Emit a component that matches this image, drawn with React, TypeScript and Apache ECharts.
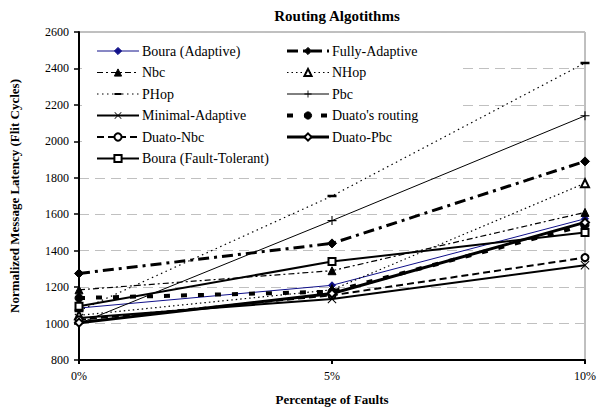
import React, { useEffect, useRef } from "react";
import * as echarts from "echarts";

const categories = ["0%", "5%", "10%"];
const yTicks = { min: 800, max: 2600, interval: 200 };

const bouraAdaptive = [1085, 1210, 1575];
const fullyAdaptive = [1275, 1440, 1890];
const nbc = [1185, 1290, 1610];
const nhop = [1045, 1185, 1770];
const phop = [1070, 1700, 2430];
const pbc = [1000, 1565, 2140];
const minimalAdaptive = [1030, 1135, 1320];
const duatoRouting = [1140, 1175, 1540];
const duatoNbc = [1020, 1155, 1362];
const duatoPbc = [1005, 1165, 1555];
const bouraFT = [1095, 1340, 1500];

const leftNames = ["Boura (Adaptive)", "Nbc", "PHop", "Minimal-Adaptive", "Duato-Nbc", "Boura (Fault-Tolerant)"];
const rightNames = ["Fully-Adaptive", "NHop", "Pbc", "Duato's routing", "Duato-Pbc"];

const PLUS = "path://M4.4,0H5.6V4.4H10V5.6H5.6V10H4.4V5.6H0V4.4H4.4Z";
const CROSS = "path://M0.8,0L5,4.2L9.2,0L10,0.8L5.8,5L10,9.2L9.2,10L5,5.8L0.8,10L0,9.2L4.2,5L0,0.8Z";
const DASH = "path://M0,0H0.01V0.01H0Z M9.99,9.99H10V10H9.99Z M0,3.5H10V6.5H0Z";

const FONT = "Liberation Serif";

function mk(name: string, data: number[], opts: any) {
  const color = opts.color || "#000";
  return {
    name,
    type: "line",
    data,
    symbol: opts.symbol,
    symbolSize: opts.symbolSize,
    symbolKeepAspect: true,
    z: 2,
    lineStyle: { color, width: opts.width, type: opts.dash || "solid", cap: "butt" },
    itemStyle: { color, borderColor: color, borderWidth: opts.borderWidth ?? 1 },
    emphasis: { disabled: true },
  };
}

export default function App() {
  const ref = useRef<HTMLDivElement>(null);
  useEffect(() => {
    if (!ref.current) return;
    const chart = echarts.init(ref.current, undefined, { renderer: "svg" });
    const legendBase = {
      orient: "vertical",
      top: 44,
      itemWidth: 42,
      itemHeight: 9,
      itemGap: 7.5,
      padding: 0,
      selectedMode: false,
      lineStyle: { width: "inherit" },
      itemStyle: { borderWidth: "inherit" },
      textStyle: { fontFamily: FONT, fontSize: 14, color: "#000", padding: [0, 0, 0, -2] },
    };
    chart.setOption({
      animation: false,
      title: {
        text: "Routing Algotithms",
        left: 332,
        textAlign: "center",
        top: 3,
        textStyle: { fontFamily: FONT, fontSize: 15, fontWeight: "bold", color: "#000" },
      },
      grid: {
        left: 76,
        right: 20,
        top: 32,
        bottom: 50,
        show: true,
        borderColor: "#808080",
        borderWidth: 1,
        backgroundColor: "#fff",
      },
      legend: [
        { ...legendBase, left: 96, data: leftNames },
        { ...legendBase, left: 285, data: rightNames },
      ],
      graphic: [
        {
          type: "rect",
          z: 1,
          shape: { x: 82, y: 38, width: 380, height: 131 },
          style: { fill: "#fff" },
          silent: true,
        },
      ],
      xAxis: {
        type: "category",
        data: categories,
        boundaryGap: false,
        name: "Percentage of Faults",
        nameLocation: "middle",
        nameGap: 33,
        nameTextStyle: { fontFamily: FONT, fontSize: 13, fontWeight: "bold", color: "#000" },
        axisLine: { lineStyle: { color: "#000", width: 2 } },
        axisTick: { show: true, length: 4, lineStyle: { color: "#000", width: 2 } },
        axisLabel: { fontFamily: FONT, fontSize: 12, color: "#000", margin: 10 },
        splitLine: { show: false },
      },
      yAxis: {
        type: "value",
        min: yTicks.min,
        max: yTicks.max,
        interval: yTicks.interval,
        name: "Normalized Message Latency (Flit Cycles)",
        nameLocation: "middle",
        nameGap: 58,
        nameRotate: 90,
        nameTextStyle: { fontFamily: FONT, fontSize: 13, fontWeight: "bold", color: "#000" },
        axisLine: { show: true, lineStyle: { color: "#000", width: 2 } },
        axisTick: { show: true, length: 5, lineStyle: { color: "#000", width: 1.5 } },
        axisLabel: { fontFamily: FONT, fontSize: 12, color: "#000", margin: 10, formatter: (v: number) => String(v) },
        splitLine: { show: true, lineStyle: { color: "#c0c0c0", width: 1, type: [10, 6] } },
      },
      series: [
        mk("Boura (Adaptive)", bouraAdaptive, { color: "#10108a", width: 1, symbol: "diamond", symbolSize: 7 }),
        mk("Fully-Adaptive", fullyAdaptive, { width: 3, dash: [11, 5, 3, 5], symbol: "diamond", symbolSize: 9 }),
        mk("Nbc", nbc, { width: 1.2, dash: [6, 3, 2, 3], symbol: "triangle", symbolSize: 8 }),
        mk("NHop", nhop, { width: 1.2, dash: [1.5, 3], symbol: "emptyTriangle", symbolSize: 8 }),
        mk("PHop", phop, { width: 1.2, dash: [1.5, 3.5], symbol: DASH, symbolSize: 9, borderWidth: 0 }),
        mk("Pbc", pbc, { width: 1, symbol: PLUS, symbolSize: 9, borderWidth: 0 }),
        mk("Minimal-Adaptive", minimalAdaptive, { width: 2, symbol: CROSS, symbolSize: 9, borderWidth: 0 }),
        mk("Duato's routing", duatoRouting, { width: 4, dash: [6, 11], symbol: "circle", symbolSize: 8 }),
        mk("Duato-Nbc", duatoNbc, { width: 2, dash: [7, 4], symbol: "emptyCircle", symbolSize: 7 }),
        mk("Duato-Pbc", duatoPbc, { width: 3, symbol: "emptyDiamond", symbolSize: 8 }),
        mk("Boura (Fault-Tolerant)", bouraFT, { width: 2, symbol: "emptyRect", symbolSize: 7 }),
      ],
    });
    return () => chart.dispose();
  }, []);
  return <div ref={ref} style={{ position: "fixed", left: 0, top: 0, width: 605, height: 411, background: "#fff" }} />;
}
